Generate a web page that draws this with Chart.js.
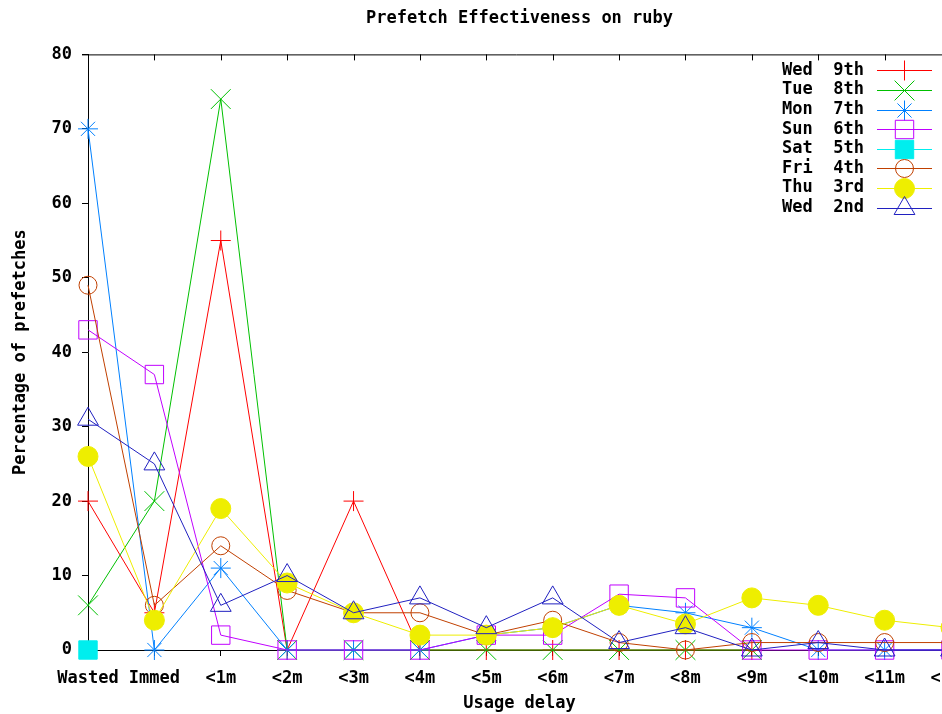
<!DOCTYPE html>
<html>
<head>
<meta charset="utf-8">
<script src="https://cdn.jsdelivr.net/npm/chart.js@4/dist/chart.umd.min.js"></script>
<style>
  html, body { margin: 0; padding: 0; background: #fff; overflow: hidden; }
  canvas { display: block; }
</style>
</head>
<body>
<canvas id="prefetchChart" width="1000" height="714"></canvas>
<script>
// usage delay buckets
const delays = ['Wasted', 'Immed', '<1m', '<2m', '<3m', '<4m', '<5m', '<6m', '<7m', '<8m', '<9m', '<10m', '<11m', '<12m'];

// percentage of prefetches per day
const wed9 = [20, 5, 55, 0, 20, 0, 0, 0, 0, 0, 0];
const tue8 = [6, 20, 74, 0, 0, 0, 0, 0, 0, 0, 0];
const mon7 = [70, 0, 11, 0, 0, 0, 2, 3, 6, 5, 3, 0, 0, 0];
const sun6 = [43, 37, 2, 0, 0, 0, 2, 2, 7.5, 7, 0, 0, 0, 0];
const sat5 = [0];
const fri4 = [49, 6, 14, 8, 5, 5, 2, 4, 1, 0, 1, 1, 1, 1];
const thu3 = [26, 4, 19, 9, 5, 2, 2, 3, 6, 3.5, 7, 6, 4, 3];
const wed2 = [31, 25, 6, 10, 5, 7, 3, 7, 1, 3, 0, 1, 0, 0];

const dayNames = ['Wed  9th', 'Tue  8th', 'Mon  7th', 'Sun  6th', 'Sat  5th', 'Fri  4th', 'Thu  3rd', 'Wed  2nd'];
const dayValues = [wed9, tue8, mon7, sun6, sat5, fri4, thu3, wed2];
const dayColors = ['#ff0000', '#00c000', '#0080ff', '#c000ff', '#00eeee', '#c04000', '#eeee00', '#2020c0'];
const dayMarkers = ['cross', 'crossRot', 'star', 'rect', 'rect', 'circle', 'circle', 'triangle'];
const markerSizes = [10, 14, 10, 13, 13, 9, 10, 12];
const markerFilled = [false, false, false, false, true, false, true, false];

const FONT = { family: '"DejaVu Sans Mono", "Liberation Mono", monospace', size: 17, weight: 'bold' };

Chart.defaults.font = FONT;
Chart.defaults.color = '#000';

// draws the top border and a gnuplot-style key inside the plot
const gnuplotFrame = {
    id: 'gnuplotFrame',
    afterDatasetsDraw(chart) {
        const { ctx, chartArea } = chart;
        const xScale = chart.scales.x;
        ctx.save();
        ctx.strokeStyle = '#000';
        ctx.lineWidth = 1;
        ctx.beginPath();
        ctx.moveTo(chartArea.left - 6, chartArea.top + 0.5);
        ctx.lineTo(chartArea.right, chartArea.top + 0.5);
        delays.forEach((d, i) => {
            const x = Math.round(xScale.getPixelForValue(i)) + 0.5;
            ctx.moveTo(x, chartArea.top);
            ctx.lineTo(x, chartArea.top + 6);
        });
        ctx.stroke();

        ctx.font = `${FONT.weight} ${FONT.size}px ${FONT.family}`;
        ctx.textAlign = 'right';
        ctx.textBaseline = 'middle';
        chart.data.datasets.forEach((ds, i) => {
            const y = chartArea.top + 16 + i * 19.6;
            ctx.fillStyle = '#000';
            ctx.fillText(ds.label, chartArea.right - 87, y);
            ctx.strokeStyle = ds.borderColor;
            ctx.beginPath();
            ctx.moveTo(chartArea.right - 74, Math.round(y) + 0.5);
            ctx.lineTo(chartArea.right - 19, Math.round(y) + 0.5);
            ctx.stroke();
            ctx.fillStyle = ds.pointBackgroundColor;
            Chart.helpers.drawPoint(ctx, {
                pointStyle: ds.pointStyle,
                radius: ds.pointRadius,
                rotation: 0,
                borderWidth: 1
            }, chartArea.right - 46.5, Math.round(y) + 0.5);
        });
        ctx.restore();
    }
};

const ctx = document.getElementById('prefetchChart').getContext('2d');
const prefetchChart = new Chart(ctx, {
    type: 'line',
    data: {
        labels: delays,
        datasets: dayNames.map((name, i) => ({
            label: name,
            data: dayValues[i],
            borderColor: dayColors[i],
            backgroundColor: dayColors[i],
            borderWidth: 1,
            tension: 0,
            pointStyle: dayMarkers[i],
            pointRadius: markerSizes[i],
            pointHoverRadius: markerSizes[i],
            pointBorderWidth: 1,
            pointBorderColor: dayColors[i],
            pointBackgroundColor: markerFilled[i] ? dayColors[i] : 'rgba(0,0,0,0)',
            clip: false,
            order: dayNames.length - 1 - i
        }))
    },
    options: {
        responsive: false,
        animation: false,
        devicePixelRatio: 1,
        layout: { padding: { left: 0, right: 49, top: 0, bottom: 0 } },
        plugins: {
            legend: { display: false },
            tooltip: { enabled: false },
            title: {
                display: true,
                text: 'Prefetch Effectiveness on ruby',
                fullSize: false,
                padding: { top: 8, bottom: 26 },
                font: FONT,
                color: '#000'
            }
        },
        scales: {
            x: {
                type: 'category',
                offset: false,
                afterFit: scale => { scale.height = 64; },
                grid: { drawOnChartArea: false, tickLength: 6, color: '#000' },
                border: { display: true, color: '#000', width: 1 },
                ticks: { autoSkip: false, maxRotation: 0, padding: 12, color: '#000' },
                title: { display: true, text: 'Usage delay', padding: { top: 0, bottom: 0 }, color: '#000' }
            },
            y: {
                min: 0,
                max: 80,
                afterFit: scale => { scale.width = 88; },
                grid: { drawOnChartArea: false, tickLength: 6, color: '#000' },
                border: { display: true, color: '#000', width: 1 },
                ticks: { stepSize: 10, padding: 10, color: '#000' },
                title: { display: true, text: 'Percentage of prefetches', padding: { top: 10, bottom: 0 }, color: '#000' }
            }
        }
    },
    plugins: [gnuplotFrame]
});
</script>
</body>
</html>
